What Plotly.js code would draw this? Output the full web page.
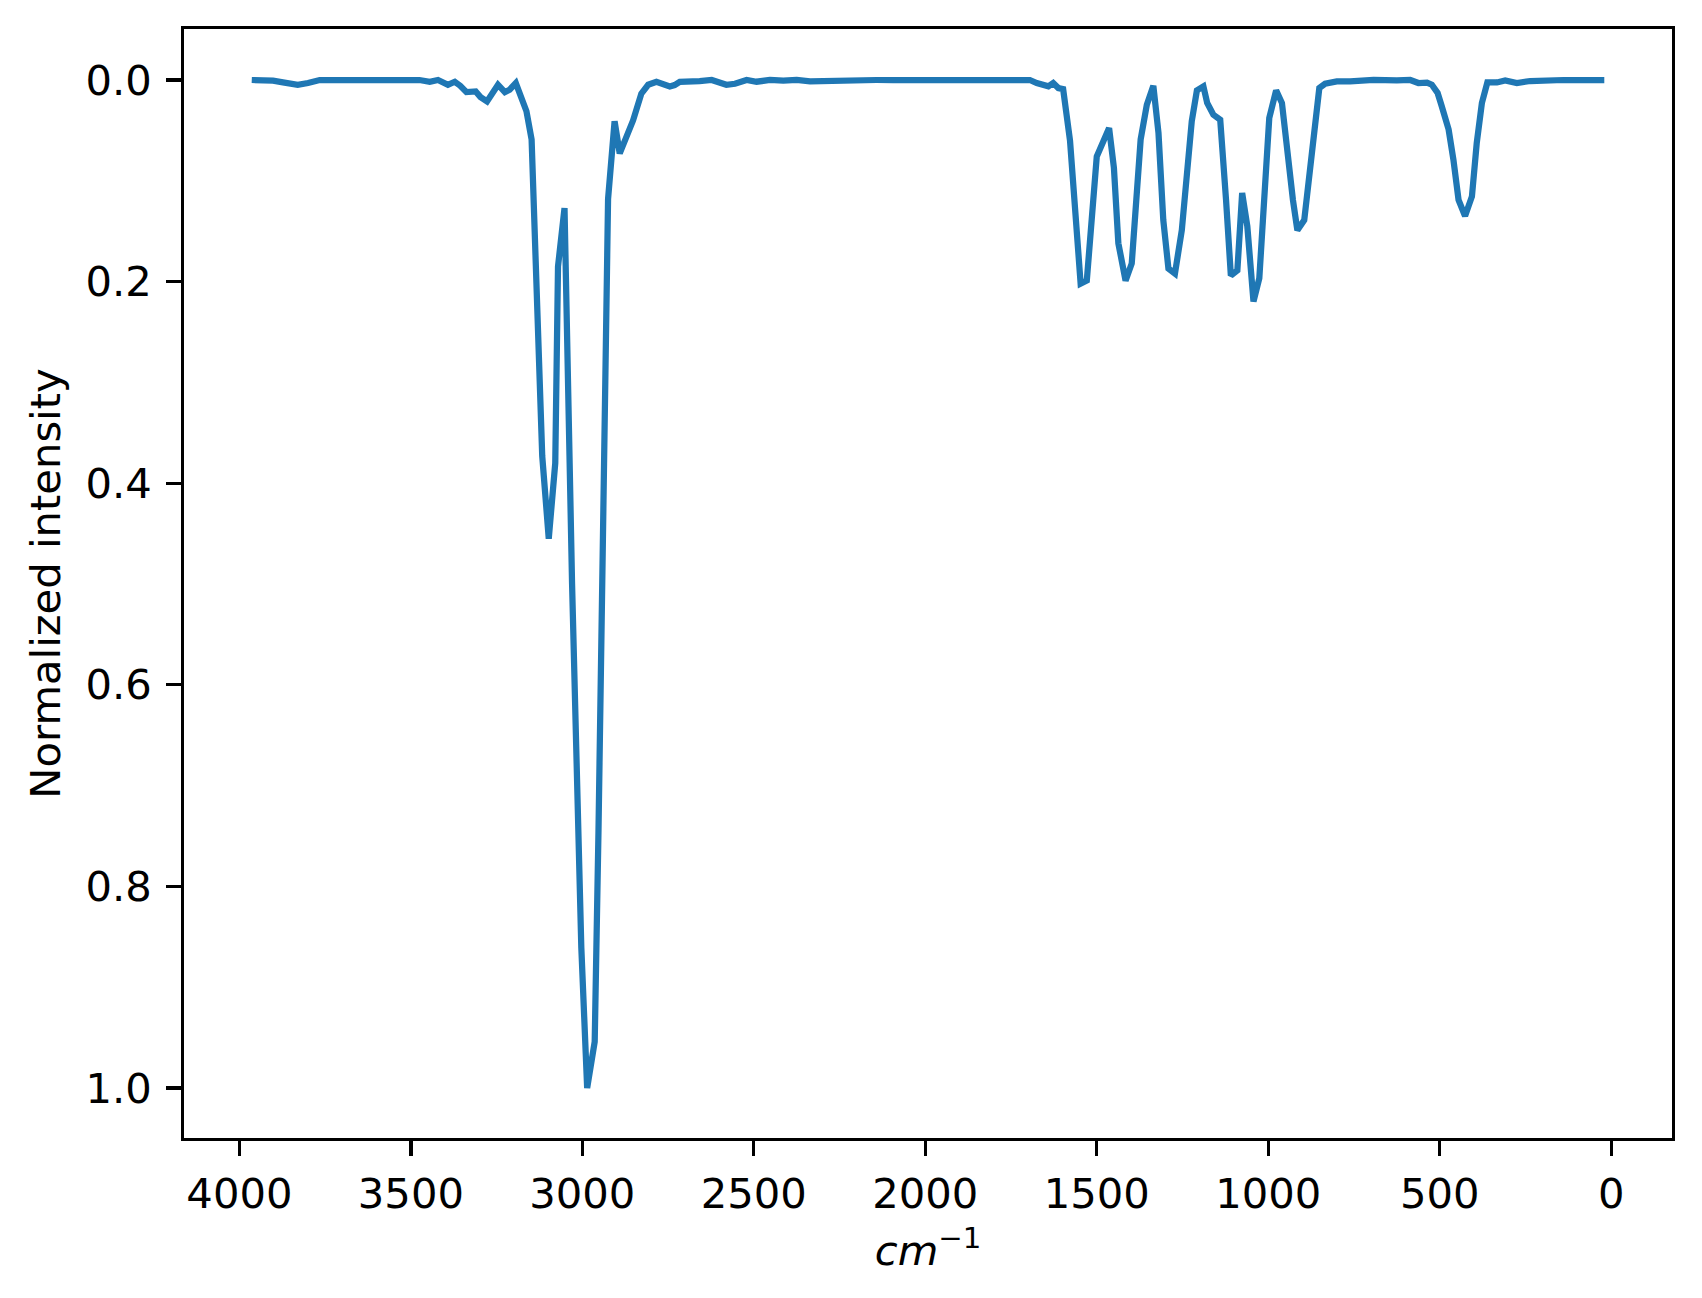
<!DOCTYPE html>
<html>
<head>
<meta charset="utf-8">
<script src="https://cdn.plot.ly/plotly-3.0.1.min.js"></script>
<style>html,body{margin:0;padding:0;background:#fff;}#chart{width:1702px;height:1298px;}</style>
</head>
<body>
<div id="chart"></div>
<script>
// Wavenumber (cm^-1) and normalized intensity
const wavenumber = [
  3964, 3930, 3902, 3873, 3850, 3830, 3800, 3766, 3720, 3688, 3650, 3620, 3590, 3562, 3520, 3475,
  3445, 3421, 3392, 3372, 3356, 3338, 3311, 3297, 3278, 3261, 3246, 3226, 3212, 3194, 3178, 3163,
  3148, 3117, 3098, 3079, 3071, 3052, 3030, 3013, 3003, 2986, 2964, 2953, 2944, 2925, 2906, 2891,
  2852, 2828, 2808, 2784, 2745, 2731, 2716, 2682, 2658, 2623, 2604, 2580, 2555, 2521, 2492, 2453,
  2414, 2375, 2336, 2278, 2230, 2181, 2142, 2094, 2045, 1987, 1938, 1889, 1831, 1792, 1743, 1695,
  1675, 1651, 1641, 1627, 1612, 1598, 1578, 1547, 1529, 1500, 1486, 1464, 1450, 1437, 1416, 1398,
  1372, 1354, 1335, 1320, 1306, 1291, 1272, 1252, 1223, 1208, 1189, 1178, 1160, 1140, 1123, 1109,
  1090, 1076, 1061, 1043, 1026, 1009, 997, 977, 960, 928, 915, 895, 880, 863, 851, 834,
  800, 761, 722, 693, 625, 586, 562, 537, 523, 506, 494, 474, 460, 445, 426, 406,
  392, 377, 361, 333, 309, 275, 236, 197, 139, 81, 42, 20
];
const intensity = [
  0.000, 0.000, 0.0007, 0.0024, 0.004, 0.0047, 0.003, 0.000, 0.000, 0.000, 0.0003, 0.000, 0.0005, 0.000, 0.000, 0.000,
  0.0017, 0.000, 0.0047, 0.0017, 0.0057, 0.012, 0.0113, 0.0169, 0.0212, 0.013, 0.0047, 0.012, 0.0096, 0.003, 0.0163, 0.031,
  0.059, 0.373, 0.455, 0.380, 0.185, 0.127, 0.500, 0.746, 0.861, 1.000, 0.954, 0.746, 0.516, 0.118, 0.041, 0.0728,
  0.040, 0.0135, 0.0047, 0.0018, 0.0064, 0.005, 0.0018, 0.002, 0.001, 0.000, 0.002, 0.0047, 0.0037, 0.000, 0.0017, 0.000,
  0.0007, 0.000, 0.0014, 0.0007, 0.000, 0.0007, 0.000, 0.000, 0.000, 0.0007, 0.0014, 0.000, 0.000, 0.000, 0.000, 0.000,
  0.003, 0.0063, 0.0063, 0.003, 0.008, 0.009, 0.060, 0.202, 0.199, 0.0758, 0.066, 0.0477, 0.087, 0.162, 0.199, 0.182,
  0.059, 0.0245, 0.0057, 0.0526, 0.139, 0.187, 0.192, 0.149, 0.041, 0.0103, 0.0063, 0.0228, 0.0344, 0.0394, 0.119, 0.194,
  0.189, 0.112, 0.145, 0.2198, 0.1966, 0.112, 0.0377, 0.0103, 0.0228, 0.119, 0.149, 0.139, 0.092, 0.0394, 0.008, 0.0037,
  0.0014, 0.0014, 0.000, 0.000, 0.0003, 0.000, 0.003, 0.0026, 0.0047, 0.0129, 0.026, 0.049, 0.079, 0.119, 0.135, 0.1155,
  0.0626, 0.0228, 0.0024, 0.0024, 0.0004, 0.003, 0.001, 0.000, 0.000, 0.000, 0.000, 0.000
];
const xTitle = '<i>cm</i><sup>\u22121</sup>';
const yTitle = 'Normalized intensity';
const xTicks = [0, 500, 1000, 1500, 2000, 2500, 3000, 3500, 4000];
const yTicks = [0.0, 0.2, 0.4, 0.6, 0.8, 1.0];

const font = {family: 'DejaVu Sans, sans-serif', size: 41.7, color: '#000'};

Plotly.newPlot('chart', [{
  x: wavenumber,
  y: intensity,
  type: 'scatter',
  mode: 'lines',
  line: {color: '#1f77b4', width: 6.25},
  hoverinfo: 'skip'
}], {
  width: 1702,
  height: 1298,
  paper_bgcolor: '#fff',
  plot_bgcolor: '#fff',
  showlegend: false,
  font: font,
  margin: {l: 184, r: 30, t: 29, b: 160, pad: 0},
  xaxis: {
    range: [4161.6, -177.4],
    tickvals: xTicks,
    ticktext: xTicks.map(String),
    ticks: 'outside', ticklen: 14.6, tickwidth: 3.3, tickcolor: '#000',
    showline: true, linewidth: 3.3, linecolor: '#000', mirror: true,
    showgrid: false, zeroline: false,
    tickfont: font,
    ticklabelstandoff: 2,
    automargin: false,
    title: {text: xTitle, font: font, standoff: 20}
  },
  yaxis: {
    range: [1.0496, -0.0506],
    tickvals: yTicks,
    ticktext: yTicks.map(v => v.toFixed(1)),
    ticks: 'outside', ticklen: 14.6, tickwidth: 3.3, tickcolor: '#000',
    showline: true, linewidth: 3.3, linecolor: '#000', mirror: true,
    showgrid: false, zeroline: false,
    tickfont: font,
    ticklabelstandoff: 6,
    automargin: false,
    title: {text: yTitle, font: font, standoff: 13}
  }
}, {staticPlot: true, displayModeBar: false});
</script>
</body>
</html>
